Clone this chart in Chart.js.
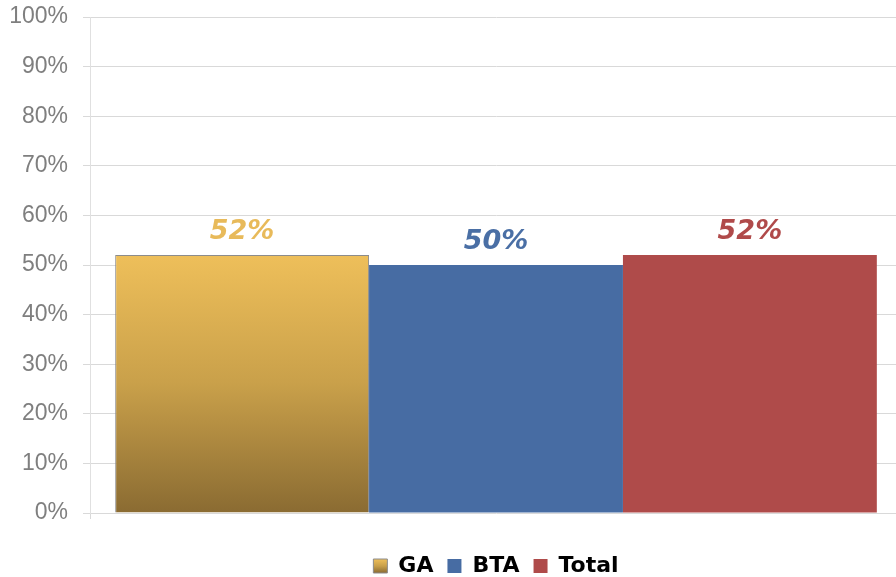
<!DOCTYPE html>
<html>
<head>
<meta charset="utf-8">
<script src="https://cdn.jsdelivr.net/npm/chart.js@4.4.1/dist/chart.umd.min.js"></script>
<style>
  html, body { margin: 0; padding: 0; background: #fff; overflow: hidden; }
  #wrap { width: 902px; height: 587px; }
</style>
</head>
<body>
<div id="wrap"><canvas id="chart"></canvas></div>
<script>
// data
const categories = [''];
const seriesNames = ['GA', 'BTA', 'Total'];
const seriesValues = [52, 50, 52];
const yMin = 0, yMax = 100, yStep = 10;

const barColors = ['#c9a04a', '#476ca3', '#af4b4a'];
const labelColors = ['#e8ba5a', '#4a6fa5', '#b04a4a'];

// gold bar: light at the top, dark at the bottom
function goldFill(ctx, top, bottom) {
    const g = ctx.createLinearGradient(0, top, 0, bottom);
    g.addColorStop(0, '#eebf5a');
    g.addColorStop(0.5, '#c9a04a');
    g.addColorStop(1, '#8a6b32');
    return g;
}

const valueLabels = {
    id: 'valueLabels',
    afterDatasetsDraw(chart) {
        const ctx = chart.ctx;
        ctx.save();
        ctx.font = 'italic bold 27px "DejaVu Sans"';
        ctx.textAlign = 'center';
        ctx.textBaseline = 'alphabetic';
        chart.data.datasets.forEach((ds, i) => {
            const bar = chart.getDatasetMeta(i).data[0];
            ctx.fillStyle = labelColors[i];
            ctx.fillText(ds.data[0] + '%', bar.x, bar.y - 16);
        });
        ctx.restore();
    }
};

const datasets = seriesNames.map((name, i) => ({
    label: name,
    data: [seriesValues[i]],
    backgroundColor: i === 0 ? (c) => {
        const ch = c.chart;
        if (!ch.chartArea) return barColors[0];
        return goldFill(ch.ctx, ch.scales.y.getPixelForValue(seriesValues[0]), ch.chartArea.bottom);
    } : barColors[i],
    borderColor: i === 0 ? '#8c8c8c' : barColors[i],
    borderWidth: i === 0 ? 1 : 0,
    borderSkipped: 'bottom',
    barPercentage: 1,
    categoryPercentage: 0.938
}));

new Chart(document.getElementById('chart'), {
    type: 'bar',
    data: { labels: categories, datasets: datasets },
    options: {
        responsive: true,
        maintainAspectRatio: false,
        animation: false,
        layout: { padding: { top: 17, right: 0, left: 0, bottom: 0 } },
        plugins: {
            tooltip: { enabled: false },
            legend: {
                position: 'bottom',
                fullSize: false,
                labels: {
                    boxWidth: 14,
                    boxHeight: 14,
                    padding: 14,
                    color: '#000',
                    font: { family: '"DejaVu Sans"', size: 22, weight: 'bold' },
                    generateLabels(chart) {
                        const items = Chart.defaults.plugins.legend.labels.generateLabels(chart);
                        items[0].fillStyle = goldFill(chart.ctx, 559, 573);
                        items[0].strokeStyle = '#8c8c8c';
                        items[0].lineWidth = 1;
                        return items;
                    }
                }
            }
        },
        scales: {
            x: {
                ticks: { display: false },
                border: { display: false },
                grid: { offset: true, drawOnChartArea: false, tickLength: 6, color: '#d9d9d9' },
                afterFit(s) { s.height = 28; }
            },
            y: {
                min: yMin,
                max: yMax,
                ticks: {
                    stepSize: yStep,
                    padding: 15,
                    color: '#7f7f7f',
                    font: { family: '"Liberation Sans"', size: 23 },
                    callback: (v) => v + '%'
                },
                border: { display: true, color: '#e0e0e0' },
                grid: { color: '#d9d9d9', tickLength: 7 },
                afterFit(s) {
                    s.width = 90;
                    s.paddingTop = 0;
                    s.paddingBottom = 0;
                }
            }
        }
    },
    plugins: [valueLabels]
});
</script>
</body>
</html>
